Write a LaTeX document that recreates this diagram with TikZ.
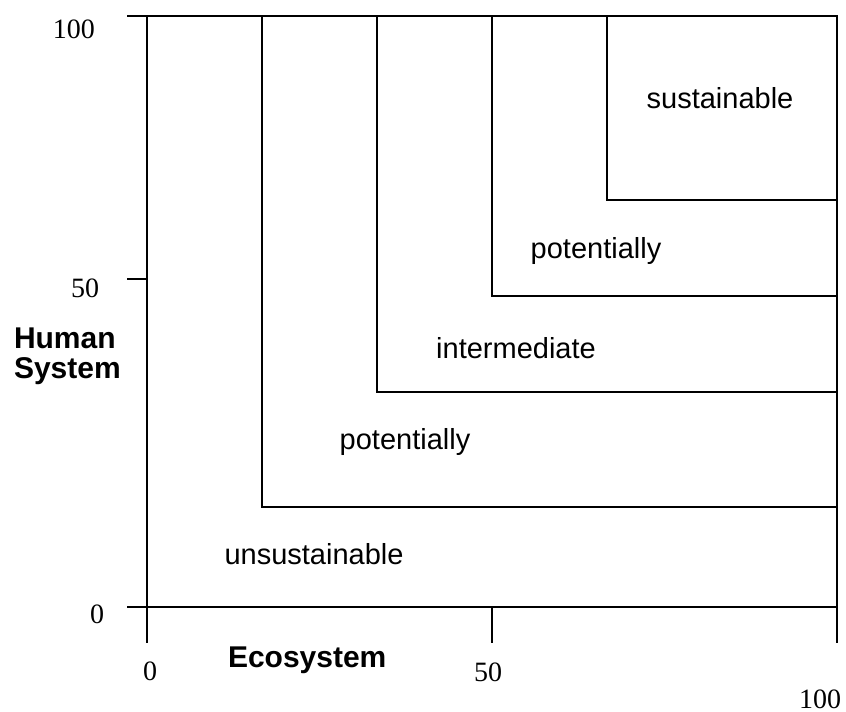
\documentclass[tikz,border=0pt]{standalone}
\usepackage{fontspec}
\setmainfont{Liberation Serif}
\setsansfont{Liberation Sans}
\usetikzlibrary{positioning}

\begin{document}
\begin{tikzpicture}[x=0.5pt, y=-0.5pt, line width=1pt,
        ticklabel/.style={font=\fontsize{14}{16}\selectfont, inner sep=0pt},
        zone/.style={font=\sffamily\fontsize{14.5}{17}\selectfont, anchor=base, inner sep=0pt},
        axislabel/.style={font=\sffamily\bfseries\fontsize{15}{15}\selectfont,
                          align=left, inner sep=0pt}]
        \useasboundingbox (0,0) rectangle (846,712);

        % Add the axes and the frame
        \coordinate (origin) at (147,607);
        \coordinate (ytop)   at (147,16);
        \coordinate (corner) at (837,16);
        \coordinate (xend)   at (837,607);
        \draw (127,16) -- (corner) -- (837,643);
        \draw (ytop) -- (147,643);
        \draw (127,607) -- (xend);

        % Ticks
        \draw (127,279) -- (147,279);
        \draw (492,607) -- (492,643);

        % Nested zones
        \draw (262,16) -- (262,507) -- (837,507);
        \draw (377,16) -- (377,392) -- (837,392);
        \draw (492,16) -- (492,296) -- (837,296);
        \draw (607,16) -- (607,200) -- (837,200);

        % Tick labels
        \node[ticklabel] (y100) at (74,29)  {100};
        \node[ticklabel] (y50)  at (85,288) {50};
        \node[ticklabel] (y0)   at (97,614) {0};
        \node[ticklabel] (x0)   at (150,671) {0};
        \node[ticklabel] (x50)  at (488,672) {50};
        \node[ticklabel] (x100) at (820,699) {100};

        % Axis names
        \node[axislabel, anchor=base west] (human) at (13,378) {Human\\System};
        \node[axislabel, anchor=base west] (eco)   at (227,667) {Ecosystem};

        % Zone labels
        \node[zone] (sust)   at (720,108) {sustainable};
        \node[zone] (pot1)   at (596,258) {potentially};
        \node[zone] (inter)  at (516,358) {intermediate};
        \node[zone] (pot2)   at (405,449) {potentially};
        \node[zone] (unsust) at (314,564) {unsustainable};
    \end{tikzpicture}
\end{document}
